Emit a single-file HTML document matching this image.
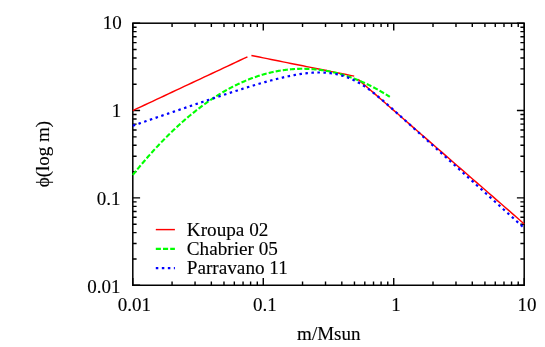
<!DOCTYPE html>
<html><head><meta charset="utf-8"><title>IMF</title>
<style>html,body{margin:0;padding:0;background:#fff;}svg{display:block;will-change:transform;}text{font-family:"Liberation Serif",serif;font-size:19px;fill:#000;stroke:#000;stroke-width:0.12px;}</style></head>
<body>
<svg width="545" height="347" viewBox="0 0 545 347">
<rect width="545" height="347" fill="#fff"/>
<path d="M132.80 285.25 v-7.30 M132.80 23.20 v7.30 M132.80 285.25 h7.30 M524.20 285.25 h-7.30 M172.07 285.25 v-3.80 M172.07 23.20 v3.80 M132.80 258.96 h3.80 M524.20 258.96 h-3.80 M195.05 285.25 v-3.80 M195.05 23.20 v3.80 M132.80 243.57 h3.80 M524.20 243.57 h-3.80 M211.35 285.25 v-3.80 M211.35 23.20 v3.80 M132.80 232.66 h3.80 M524.20 232.66 h-3.80 M223.99 285.25 v-3.80 M223.99 23.20 v3.80 M132.80 224.19 h3.80 M524.20 224.19 h-3.80 M234.32 285.25 v-3.80 M234.32 23.20 v3.80 M132.80 217.28 h3.80 M524.20 217.28 h-3.80 M243.06 285.25 v-3.80 M243.06 23.20 v3.80 M132.80 211.43 h3.80 M524.20 211.43 h-3.80 M250.62 285.25 v-3.80 M250.62 23.20 v3.80 M132.80 206.37 h3.80 M524.20 206.37 h-3.80 M257.30 285.25 v-3.80 M257.30 23.20 v3.80 M132.80 201.90 h3.80 M524.20 201.90 h-3.80 M263.27 285.25 v-7.30 M263.27 23.20 v7.30 M132.80 197.90 h7.30 M524.20 197.90 h-7.30 M302.54 285.25 v-3.80 M302.54 23.20 v3.80 M132.80 171.61 h3.80 M524.20 171.61 h-3.80 M325.52 285.25 v-3.80 M325.52 23.20 v3.80 M132.80 156.22 h3.80 M524.20 156.22 h-3.80 M341.82 285.25 v-3.80 M341.82 23.20 v3.80 M132.80 145.31 h3.80 M524.20 145.31 h-3.80 M354.46 285.25 v-3.80 M354.46 23.20 v3.80 M132.80 136.84 h3.80 M524.20 136.84 h-3.80 M364.79 285.25 v-3.80 M364.79 23.20 v3.80 M132.80 129.93 h3.80 M524.20 129.93 h-3.80 M373.52 285.25 v-3.80 M373.52 23.20 v3.80 M132.80 124.08 h3.80 M524.20 124.08 h-3.80 M381.09 285.25 v-3.80 M381.09 23.20 v3.80 M132.80 119.02 h3.80 M524.20 119.02 h-3.80 M387.76 285.25 v-3.80 M387.76 23.20 v3.80 M132.80 114.55 h3.80 M524.20 114.55 h-3.80 M393.73 285.25 v-7.30 M393.73 23.20 v7.30 M132.80 110.55 h7.30 M524.20 110.55 h-7.30 M433.01 285.25 v-3.80 M433.01 23.20 v3.80 M132.80 84.26 h3.80 M524.20 84.26 h-3.80 M455.98 285.25 v-3.80 M455.98 23.20 v3.80 M132.80 68.87 h3.80 M524.20 68.87 h-3.80 M472.28 285.25 v-3.80 M472.28 23.20 v3.80 M132.80 57.96 h3.80 M524.20 57.96 h-3.80 M484.93 285.25 v-3.80 M484.93 23.20 v3.80 M132.80 49.49 h3.80 M524.20 49.49 h-3.80 M495.26 285.25 v-3.80 M495.26 23.20 v3.80 M132.80 42.58 h3.80 M524.20 42.58 h-3.80 M503.99 285.25 v-3.80 M503.99 23.20 v3.80 M132.80 36.73 h3.80 M524.20 36.73 h-3.80 M511.56 285.25 v-3.80 M511.56 23.20 v3.80 M132.80 31.67 h3.80 M524.20 31.67 h-3.80 M518.23 285.25 v-3.80 M518.23 23.20 v3.80 M132.80 27.20 h3.80 M524.20 27.20 h-3.80 M524.20 285.25 v-7.30 M524.20 23.20 v7.30 M132.80 23.20 h7.30 M524.20 23.20 h-7.30 M524.20 285.25 v-7.30 M524.20 23.20 v7.30 M132.80 23.20 h7.30 M524.20 23.20 h-7.30" stroke="#000" stroke-width="1.4" fill="none"/>
<rect x="132.80" y="23.20" width="391.40" height="262.05" fill="none" stroke="#000" stroke-width="1.5"/>
<g fill="none" stroke-linejoin="round">
<polyline points="132.80,110.55 136.75,108.70 140.71,106.84 144.66,104.99 148.61,103.14 152.57,101.29 156.52,99.43 160.47,97.58 164.43,95.73 168.38,93.87 172.34,92.02 176.29,90.17 180.24,88.32 184.20,86.46 188.15,84.61 192.10,82.76 196.06,80.90 200.01,79.05 203.96,77.20 207.92,75.35 211.87,73.49 215.82,71.64 219.78,69.79 223.73,67.93 227.68,66.08 231.64,64.23 235.59,62.38 239.55,60.52 243.50,58.67 247.45,56.82" stroke="#ff0000" stroke-width="1.45"/>
<polyline points="251.41,55.49 255.36,56.28 259.31,57.08 263.27,57.87 267.22,58.66 271.17,59.46 275.13,60.25 279.08,61.05 283.03,61.84 286.99,62.63 290.94,63.43 294.89,64.22 298.85,65.02 302.80,65.81 306.76,66.61 310.71,67.40 314.66,68.19 318.62,68.99 322.57,69.78 326.52,70.58 330.48,71.37 334.43,72.16 338.38,72.96 342.34,73.75 346.29,74.55 350.24,75.34 354.20,76.13" stroke="#ff0000" stroke-width="1.45"/>
<polyline points="358.15,79.40 362.11,82.84 366.06,86.28 370.01,89.72 373.97,93.16 377.92,96.61 381.87,100.05 385.83,103.49 389.78,106.93 393.73,110.37 397.69,113.81 401.64,117.25 405.59,120.69 409.55,124.13 413.50,127.58 417.45,131.02 421.41,134.46 425.36,137.90 429.32,141.34 433.27,144.78 437.22,148.22 441.18,151.66 445.13,155.10 449.08,158.54 453.04,161.99 456.99,165.43 460.94,168.87 464.90,172.31 468.85,175.75 472.80,179.19 476.76,182.63 480.71,186.07 484.66,189.51 488.62,192.96 492.57,196.40 496.53,199.84 500.48,203.28 504.43,206.72 508.39,210.16 512.34,213.60 516.29,217.04 520.25,220.48 524.20,223.93" stroke="#ff0000" stroke-width="1.45"/>
<polyline points="132.80,174.93 133.44,174.13 134.08,173.33 134.73,172.54 135.37,171.74 136.01,170.95 136.65,170.17 137.30,169.38 137.94,168.60 138.58,167.83 139.22,167.05 139.87,166.28 140.51,165.51 141.15,164.75 141.79,163.98 142.44,163.22 143.08,162.47 143.72,161.71 144.36,160.96 145.01,160.22 145.65,159.47 146.29,158.73 146.93,157.99 147.58,157.26 148.22,156.53 148.86,155.80 149.50,155.07 150.15,154.35 150.79,153.63 151.43,152.91 152.07,152.20 152.72,151.49 153.36,150.78 154.00,150.08 154.64,149.37 155.29,148.68 155.93,147.98 156.57,147.29 157.21,146.60 157.86,145.91 158.50,145.23 159.14,144.55 159.78,143.87 160.43,143.20 161.07,142.53 161.71,141.86 162.35,141.19 163.00,140.53 163.64,139.87 164.28,139.22 164.92,138.56 165.56,137.91 166.21,137.27 166.85,136.62 167.49,135.98 168.13,135.34 168.78,134.71 169.42,134.08 170.06,133.45 170.70,132.82 171.35,132.20 171.99,131.58 172.63,130.97 173.27,130.35 173.92,129.74 174.56,129.13 175.20,128.53 175.84,127.93 176.49,127.33 177.13,126.74 177.77,126.14 178.41,125.55 179.06,124.97 179.70,124.39 180.34,123.81 180.98,123.23 181.63,122.65 182.27,122.08 182.91,121.52 183.55,120.95 184.20,120.39 184.84,119.83 185.48,119.28 186.12,118.72 186.77,118.17 187.41,117.63 188.05,117.08 188.69,116.54 189.34,116.01 189.98,115.47 190.62,114.94 191.26,114.41 191.91,113.89 192.55,113.36 193.19,112.85 193.83,112.33 194.48,111.82 195.12,111.31 195.76,110.80 196.40,110.30 197.04,109.79 197.69,109.30 198.33,108.80 198.97,108.31 199.61,107.82 200.26,107.34 200.90,106.85 201.54,106.37 202.18,105.90 202.83,105.42 203.47,104.95 204.11,104.49 204.75,104.02 205.40,103.56 206.04,103.10 206.68,102.65 207.32,102.19 207.97,101.75 208.61,101.30 209.25,100.86 209.89,100.42 210.54,99.98 211.18,99.55 211.82,99.11 212.46,98.69 213.11,98.26 213.75,97.84 214.39,97.42 215.03,97.01 215.68,96.59 216.32,96.18 216.96,95.78 217.60,95.37 218.25,94.97 218.89,94.57 219.53,94.18 220.17,93.79 220.82,93.40 221.46,93.02 222.10,92.63 222.74,92.25 223.39,91.88 224.03,91.50 224.67,91.13 225.31,90.77 225.96,90.40 226.60,90.04 227.24,89.68 227.88,89.33 228.52,88.98 229.17,88.63 229.81,88.28 230.45,87.94 231.09,87.60 231.74,87.26 232.38,86.93 233.02,86.60 233.66,86.27 234.31,85.95 234.95,85.63 235.59,85.31 236.23,84.99 236.88,84.68 237.52,84.37 238.16,84.06 238.80,83.76 239.45,83.46 240.09,83.16 240.73,82.87 241.37,82.58 242.02,82.29 242.66,82.01 243.30,81.72 243.94,81.45 244.59,81.17 245.23,80.90 245.87,80.63 246.51,80.36 247.16,80.10 247.80,79.84 248.44,79.58 249.08,79.32 249.73,79.07 250.37,78.82 251.01,78.58 251.65,78.34 252.30,78.10 252.94,77.86 253.58,77.63 254.22,77.40 254.87,77.17 255.51,76.95 256.15,76.72 256.79,76.51 257.44,76.29 258.08,76.08 258.72,75.87 259.36,75.66 260.00,75.46 260.65,75.26 261.29,75.07 261.93,74.87 262.57,74.68 263.22,74.49 263.86,74.31 264.50,74.13 265.14,73.95 265.79,73.77 266.43,73.60 267.07,73.43 267.71,73.26 268.36,73.10 269.00,72.94 269.64,72.78 270.28,72.63 270.93,72.48 271.57,72.33 272.21,72.19 272.85,72.04 273.50,71.90 274.14,71.77 274.78,71.64 275.42,71.51 276.07,71.38 276.71,71.25 277.35,71.13 277.99,71.02 278.64,70.90 279.28,70.79 279.92,70.68 280.56,70.58 281.21,70.47 281.85,70.37 282.49,70.28 283.13,70.18 283.78,70.09 284.42,70.01 285.06,69.92 285.70,69.84 286.35,69.76 286.99,69.69 287.63,69.62 288.27,69.55 288.92,69.48 289.56,69.42 290.20,69.36 290.84,69.30 291.49,69.25 292.13,69.20 292.77,69.15 293.41,69.10 294.05,69.06 294.70,69.02 295.34,68.99 295.98,68.96 296.62,68.93 297.27,68.90 297.91,68.88 298.55,68.86 299.19,68.84 299.84,68.82 300.48,68.81 301.12,68.80 301.76,68.80 302.41,68.80 303.05,68.80 303.69,68.80 304.33,68.81 304.98,68.82 305.62,68.83 306.26,68.85 306.90,68.87 307.55,68.89 308.19,68.91 308.83,68.94 309.47,68.97 310.12,69.01 310.76,69.05 311.40,69.09 312.04,69.13 312.69,69.18 313.33,69.23 313.97,69.28 314.61,69.33 315.26,69.39 315.90,69.45 316.54,69.52 317.18,69.59 317.83,69.66 318.47,69.73 319.11,69.81 319.75,69.89 320.40,69.97 321.04,70.06 321.68,70.15 322.32,70.24 322.97,70.33 323.61,70.43 324.25,70.53 324.89,70.64 325.53,70.74 326.18,70.85 326.82,70.97 327.46,71.08 328.10,71.20 328.75,71.33 329.39,71.45 330.03,71.58 330.67,71.71 331.32,71.85 331.96,71.98 332.60,72.13 333.24,72.27 333.89,72.42 334.53,72.57 335.17,72.72 335.81,72.87 336.46,73.03 337.10,73.20 337.74,73.36 338.38,73.53 339.03,73.70 339.67,73.87 340.31,74.05 340.95,74.23 341.60,74.42 342.24,74.60 342.88,74.79 343.52,74.98 344.17,75.18 344.81,75.38 345.45,75.58 346.09,75.78 346.74,75.99 347.38,76.20 348.02,76.42 348.66,76.63 349.31,76.85 349.95,77.08 350.59,77.30 351.23,77.53 351.88,77.76 352.52,78.00 353.16,78.24 353.80,78.48 354.45,78.72 355.09,78.97 355.73,79.22 356.37,79.47 357.01,79.73 357.66,79.99 358.30,80.25 358.94,80.52 359.58,80.78 360.23,81.06 360.87,81.33 361.51,81.61 362.15,81.89 362.80,82.17 363.44,82.46 364.08,82.75 364.72,83.04 365.37,83.34 366.01,83.64 366.65,83.94 367.29,84.24 367.94,84.55 368.58,84.86 369.22,85.18 369.86,85.49 370.51,85.81 371.15,86.14 371.79,86.46 372.43,86.79 373.08,87.12 373.72,87.46 374.36,87.80 375.00,88.14 375.65,88.48 376.29,88.83 376.93,89.18 377.57,89.54 378.22,89.89 378.86,90.25 379.50,90.61 380.14,90.98 380.79,91.35 381.43,91.72 382.07,92.10 382.71,92.47 383.36,92.86 384.00,93.24 384.64,93.63 385.28,94.02 385.93,94.41 386.57,94.81 387.21,95.21 387.85,95.61 388.49,96.01 389.14,96.42 389.78,96.83" stroke="#00ff00" stroke-width="2.1" stroke-dasharray="5.1 2.1"/>
<polyline points="132.80,125.70 133.78,125.36 134.76,125.03 135.74,124.69 136.71,124.36 137.69,124.02 138.67,123.68 139.65,123.35 140.63,123.01 141.61,122.68 142.59,122.34 143.56,122.01 144.54,121.67 145.52,121.33 146.50,121.00 147.48,120.66 148.46,120.33 149.43,119.99 150.41,119.66 151.39,119.32 152.37,118.99 153.35,118.65 154.33,118.32 155.31,117.98 156.28,117.65 157.26,117.31 158.24,116.98 159.22,116.64 160.20,116.31 161.18,115.97 162.16,115.64 163.13,115.30 164.11,114.97 165.09,114.63 166.07,114.30 167.05,113.97 168.03,113.63 169.00,113.30 169.98,112.96 170.96,112.63 171.94,112.30 172.92,111.96 173.90,111.63 174.88,111.29 175.85,110.96 176.83,110.63 177.81,110.29 178.79,109.96 179.77,109.63 180.75,109.30 181.73,108.96 182.70,108.63 183.68,108.30 184.66,107.97 185.64,107.63 186.62,107.30 187.60,106.97 188.57,106.64 189.55,106.31 190.53,105.97 191.51,105.64 192.49,105.31 193.47,104.98 194.45,104.65 195.42,104.32 196.40,103.99 197.38,103.66 198.36,103.33 199.34,103.00 200.32,102.67 201.30,102.34 202.27,102.01 203.25,101.68 204.23,101.36 205.21,101.03 206.19,100.70 207.17,100.37 208.14,100.04 209.12,99.72 210.10,99.39 211.08,99.06 212.06,98.74 213.04,98.41 214.02,98.09 214.99,97.76 215.97,97.44 216.95,97.11 217.93,96.79 218.91,96.47 219.89,96.14 220.87,95.82 221.84,95.50 222.82,95.18 223.80,94.86 224.78,94.54 225.76,94.22 226.74,93.90 227.71,93.58 228.69,93.26 229.67,92.94 230.65,92.63 231.63,92.31 232.61,91.99 233.59,91.68 234.56,91.37 235.54,91.05 236.52,90.74 237.50,90.43 238.48,90.12 239.46,89.81 240.44,89.50 241.41,89.19 242.39,88.88 243.37,88.57 244.35,88.27 245.33,87.96 246.31,87.66 247.28,87.36 248.26,87.05 249.24,86.75 250.22,86.45 251.20,86.16 252.18,85.86 253.16,85.56 254.13,85.27 255.11,84.98 256.09,84.69 257.07,84.40 258.05,84.11 259.03,83.82 260.00,83.54 260.98,83.25 261.96,82.97 262.94,82.69 263.92,82.41 264.90,82.14 265.88,81.86 266.85,81.59 267.83,81.32 268.81,81.05 269.79,80.78 270.77,80.52 271.75,80.26 272.73,80.00 273.70,79.74 274.68,79.49 275.66,79.24 276.64,78.99 277.62,78.74 278.60,78.50 279.58,78.26 280.55,78.02 281.53,77.79 282.51,77.56 283.49,77.33 284.47,77.11 285.45,76.89 286.42,76.67 287.40,76.46 288.38,76.25 289.36,76.05 290.34,75.85 291.32,75.65 292.30,75.46 293.27,75.27 294.25,75.09 295.23,74.91 296.21,74.74 297.19,74.57 298.17,74.41 299.14,74.25 300.12,74.10 301.10,73.95 302.08,73.81 303.06,73.68 304.04,73.55 305.02,73.43 305.99,73.31 306.97,73.21 307.95,73.10 308.93,73.01 309.91,72.92 310.89,72.84 311.87,72.77 312.84,72.71 313.82,72.65 314.80,72.61 315.78,72.57 316.76,72.54 317.74,72.52 318.72,72.51 319.69,72.50 320.67,72.51 321.65,72.53 322.63,72.56 323.61,72.59 324.59,72.64 325.56,72.70 326.54,72.77 327.52,72.86 328.50,72.95 329.48,73.06 330.46,73.17 331.44,73.30 332.41,73.45 333.39,73.60 334.37,73.77 335.35,73.95 336.33,74.15 337.31,74.36 338.28,74.58 339.26,74.82 340.24,75.07 341.22,75.34 342.20,75.62 343.18,75.92 344.16,76.23 345.13,76.56 346.11,76.90 347.09,77.26 348.07,77.63 349.05,78.02 350.03,78.43 351.01,78.85 351.98,79.29 352.96,79.75 353.94,80.22 354.92,80.71 355.90,81.21 356.88,81.73 357.86,82.26 358.83,82.82 359.81,83.38 360.79,83.97 361.77,84.57 362.75,85.18 363.73,85.81 364.70,86.45 365.68,87.11 366.66,87.78 367.64,88.47 368.62,89.17 369.60,89.88 370.58,90.60 371.55,91.34 372.53,92.09 373.51,92.85 374.49,93.62 375.47,94.40 376.45,95.18 377.43,95.98 378.40,96.79 379.38,97.60 380.36,98.43 381.34,99.25 382.32,100.09 383.30,100.93 384.27,101.78 385.25,102.63 386.23,103.48 387.21,104.34 388.19,105.21 389.17,106.07 390.15,106.94 391.12,107.81 392.10,108.69 393.08,109.56 394.06,110.44 395.04,111.32 396.02,112.20 397.00,113.08 397.97,113.96 398.95,114.84 399.93,115.72 400.91,116.60 401.89,117.49 402.87,118.37 403.84,119.25 404.82,120.14 405.80,121.02 406.78,121.91 407.76,122.79 408.74,123.67 409.72,124.56 410.69,125.44 411.67,126.33 412.65,127.21 413.63,128.10 414.61,128.98 415.59,129.87 416.56,130.75 417.54,131.63 418.52,132.52 419.50,133.40 420.48,134.29 421.46,135.17 422.44,136.06 423.41,136.94 424.39,137.83 425.37,138.71 426.35,139.59 427.33,140.48 428.31,141.36 429.29,142.25 430.26,143.13 431.24,144.02 432.22,144.90 433.20,145.78 434.18,146.67 435.16,147.55 436.14,148.44 437.11,149.32 438.09,150.21 439.07,151.09 440.05,151.98 441.03,152.86 442.01,153.74 442.98,154.63 443.96,155.51 444.94,156.40 445.92,157.28 446.90,158.17 447.88,159.05 448.86,159.94 449.83,160.82 450.81,161.70 451.79,162.59 452.77,163.47 453.75,164.36 454.73,165.24 455.71,166.13 456.68,167.01 457.66,167.90 458.64,168.78 459.62,169.66 460.60,170.55 461.58,171.43 462.55,172.32 463.53,173.20 464.51,174.09 465.49,174.97 466.47,175.86 467.45,176.74 468.43,177.62 469.40,178.51 470.38,179.39 471.36,180.28 472.34,181.16 473.32,182.05 474.30,182.93 475.28,183.81 476.25,184.70 477.23,185.58 478.21,186.47 479.19,187.35 480.17,188.24 481.15,189.12 482.12,190.01 483.10,190.89 484.08,191.77 485.06,192.66 486.04,193.54 487.02,194.43 488.00,195.31 488.97,196.20 489.95,197.08 490.93,197.97 491.91,198.85 492.89,199.73 493.87,200.62 494.85,201.50 495.82,202.39 496.80,203.27 497.78,204.16 498.76,205.04 499.74,205.93 500.72,206.81 501.69,207.69 502.67,208.58 503.65,209.46 504.63,210.35 505.61,211.23 506.59,212.12 507.57,213.00 508.54,213.89 509.52,214.77 510.50,215.65 511.48,216.54 512.46,217.42 513.44,218.31 514.41,219.19 515.39,220.08 516.37,220.96 517.35,221.84 518.33,222.73 519.31,223.61 520.29,224.50 521.26,225.38 522.24,226.27 523.22,227.15 524.20,228.04" stroke="#0000ff" stroke-width="2.2" stroke-dasharray="2.5 3.52"/>
</g>
<text x="121.70" y="29.30" text-anchor="end">10</text>
<text x="121.20" y="116.85" text-anchor="end">1</text>
<text x="120.60" y="204.60" text-anchor="end">0.1</text>
<text x="120.50" y="292.75" text-anchor="end">0.01</text>
<text x="134.40" y="310.80" text-anchor="middle">0.01</text>
<text x="264.97" y="310.80" text-anchor="middle">0.1</text>
<text x="396.03" y="310.80" text-anchor="middle">1</text>
<text x="527.10" y="310.80" text-anchor="middle">10</text>
<text x="328.80" y="339.90" text-anchor="middle">m/Msun</text>
<text transform="translate(48.9 154.1) rotate(-90)" text-anchor="middle">ϕ(log m)</text>
<g fill="none">
<path d="M155.8 229.6 H174.9" stroke="#ff0000" stroke-width="1.45"/>
<path d="M155.8 248.85 H174.9" stroke="#00ff00" stroke-width="2.1" stroke-dasharray="5.1 2.1"/>
<path d="M155.8 268.05 H174.9" stroke="#0000ff" stroke-width="2.2" stroke-dasharray="2.5 3.52"/>
</g>
<text x="186.8" y="235.70" style="font-size:19.2px">Kroupa 02</text>
<text x="186.8" y="255.15" style="font-size:19.2px">Chabrier 05</text>
<text x="186.8" y="274.35" style="font-size:19.2px">Parravano 11</text>
</svg>
</body></html>
